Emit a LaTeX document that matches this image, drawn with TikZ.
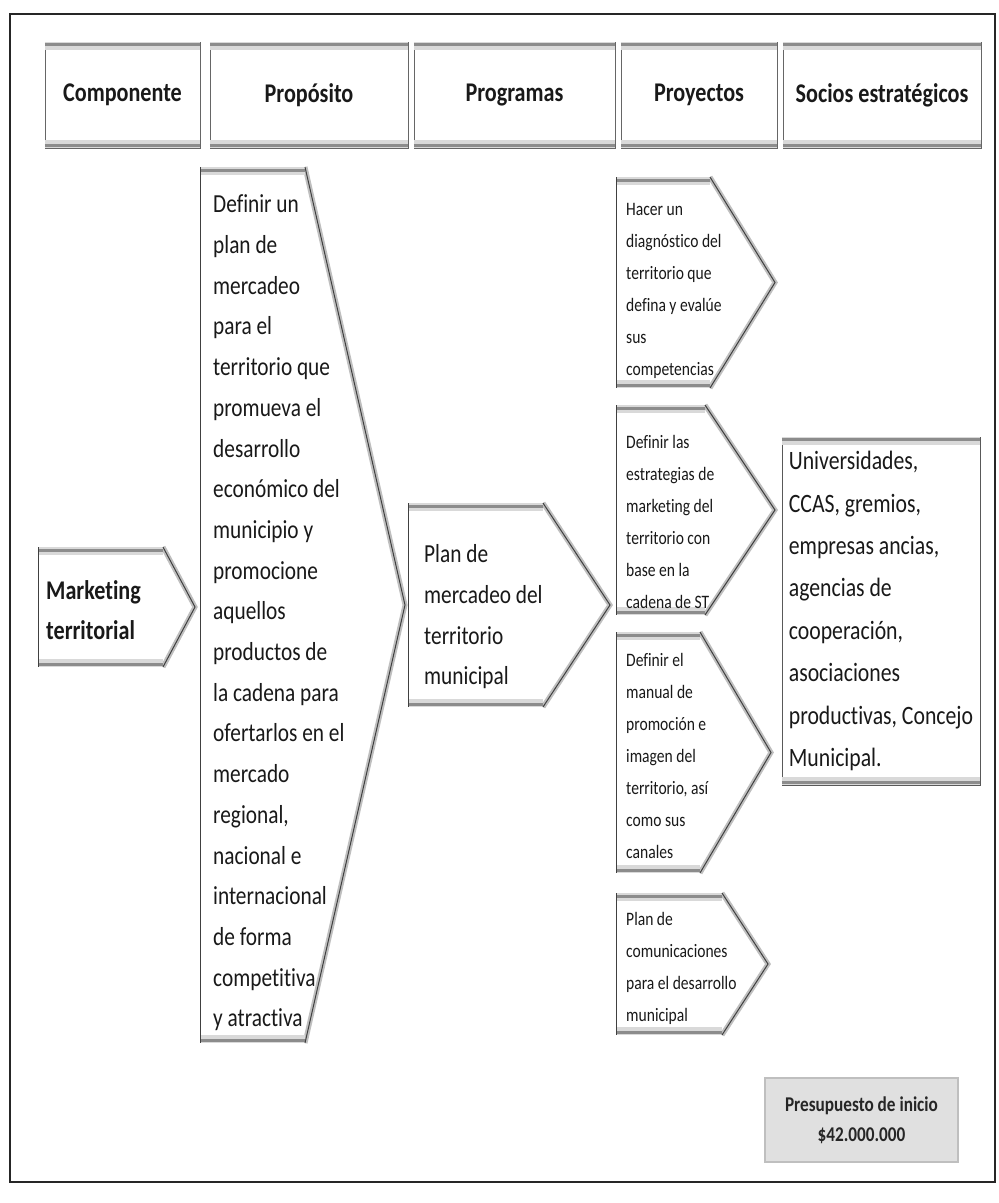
\documentclass[tikz,border=0pt]{standalone}
\usepackage{fontspec}
\setmainfont{Carlito}
\newfontfamily\angosta[FakeStretch=0.82, Ligatures=NoCommon]{Carlito}
\usetikzlibrary{positioning, calc}

% chevron outline: left, top, shoulder, tip, bottom
\newcommand{\flecha}[5]{%
  \fill[white] (#1,#2) -- (#3,#2) -- (#4,{(#2+#5)/2}) -- (#3,#5) -- (#1,#5) -- cycle;
  \draw[halo] (#3,#2) -- (#4,{(#2+#5)/2}) -- (#3,#5);
  \draw[franjasuave] (#1,{#2+4}) -- (#3,{#2+4});
  \draw[franjasuave] (#1,{#5-4}) -- (#3,{#5-4});
  \draw[franja] (#1,{#2+3}) -- (#3,{#2+3});
  \draw[franja] (#1,{#5-3}) -- (#3,{#5-3});
  \draw[borde] (#1,#2) -- (#1,#5);
  \draw[borde, line width=1pt] (#3,#2) -- (#4,{(#2+#5)/2}) -- (#3,#5);
}

\begin{document}
\begin{tikzpicture}[
    x=1pt, y=-1pt,
    cabecera/.style={draw=black!60, fill=white, rectangle, minimum height=106pt, inner sep=0pt, text=black!90, font=\angosta\fontsize{27}{30}\selectfont\bfseries},
    socio/.style={draw=black!65, fill=white, rectangle, minimum width=198pt, minimum height=348pt, align=left, text=black!90, font=\angosta\fontsize{26.5}{42.4}\selectfont},
    presu/.style={draw=black!25, line width=2pt, fill=black!12, minimum width=193pt, minimum height=84pt, align=center, text=black!85, font=\angosta\fontsize{21}{30}\selectfont\bfseries},
    franja/.style={line width=3pt, draw=black!45},
    franjasuave/.style={line width=8pt, draw=black!15},
    halo/.style={line width=5pt, draw=black!25},
    borde/.style={draw=black!75, line width=0.8pt},
    texto/.style={align=left, inner sep=0pt, anchor=west, text=black!90},
    grande/.style={texto, font=\angosta\fontsize{26}{40.7}\selectfont},
    chico/.style={texto, font=\angosta\fontsize{19}{32}\selectfont}
]
\useasboundingbox (0,0) rectangle (999,1203);

% Frame
\draw[line width=1.1pt, black!85] (10,14) rectangle (995,1182);

% Header
\node[cabecera, minimum width=155pt] (hComp) at (122.5,95) {Componente};
\node[cabecera, minimum width=198pt] (hProp) at (309,95) {Propósito};
\node[cabecera, minimum width=201pt] (hProg) at (514.5,95) {Programas};
\node[cabecera, minimum width=156pt] (hProy) at (699,95) {Proyectos};
\node[cabecera, minimum width=198pt] (hSoc) at (882,95) {Socios estratégicos};
\foreach \n in {hComp,hProp,hProg,hProy,hSoc}{
  \draw[franjasuave] ([yshift=-4pt]\n.north west) -- ([yshift=-4pt]\n.north east);
  \draw[franjasuave] ([yshift=4pt]\n.south west) -- ([yshift=4pt]\n.south east);
  \draw[franja] ([yshift=-3pt]\n.north west) -- ([yshift=-3pt]\n.north east);
  \draw[franja] ([yshift=3pt]\n.south west) -- ([yshift=3pt]\n.south east);
}

% Componente
\flecha{38}{547}{163}{195}{667}
\node[texto, font=\angosta\fontsize{27}{40}\selectfont\bfseries] (comp) at (46,610) {Marketing\\territorial};

% Proposito
\flecha{200}{167}{305}{405}{1043}
\node[grande] (prop) at (213,613) {Definir un\\plan de\\mercadeo\\para el\\territorio que\\promueva el\\desarrollo\\económico del\\municipio y\\promocione\\aquellos\\productos de\\la cadena para\\ofertarlos en el\\mercado\\regional,\\nacional e\\internacional\\de forma\\competitiva\\y atractiva};

% Programa
\flecha{408}{503}{543}{610}{707}
\node[grande] (prog) at (424,617) {Plan de\\mercadeo del\\territorio\\municipal};

% Proyectos
\flecha{616}{177}{710}{775}{388}
\node[chico] (proy1) at (626,291) {Hacer un\\diagnóstico del\\territorio que\\defina y evalúe\\sus\\competencias};
\flecha{616}{405}{705}{775}{615}
\node[chico] (proy2) at (626,522) {Definir las\\estrategias de\\marketing del\\territorio con\\base en la\\cadena de ST};
\flecha{616}{632}{700}{771}{873}
\node[chico] (proy3) at (626,756) {Definir el\\manual de\\promoción e\\imagen del\\territorio, así\\como sus\\canales};
\flecha{616}{893}{722}{768}{1035}
\node[chico] (proy4) at (626,968) {Plan de\\comunicaciones\\para el desarrollo\\municipal};

% Socios
\node[socio] (soc) at (881,611) {Universidades,\\CCAS, gremios,\\empresas ancias,\\agencias de\\cooperación,\\asociaciones\\productivas, Concejo\\Municipal.};
\draw[franjasuave] ([yshift=-4pt]soc.north west) -- ([yshift=-4pt]soc.north east);
\draw[franjasuave] ([yshift=4pt]soc.south west) -- ([yshift=4pt]soc.south east);
\draw[franja] ([yshift=-3pt]soc.north west) -- ([yshift=-3pt]soc.north east);
\draw[franja] ([yshift=3pt]soc.south west) -- ([yshift=3pt]soc.south east);

% Presupuesto
\node[presu] (pres) at (861.5,1120) {Presupuesto de inicio\\\$42.000.000};

\end{tikzpicture}
\end{document}
